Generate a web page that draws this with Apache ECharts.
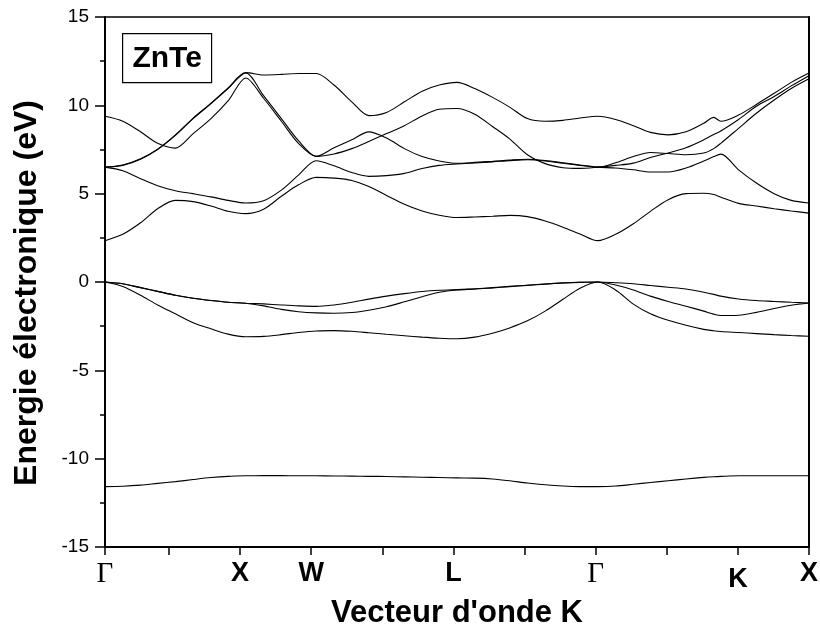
<!DOCTYPE html>
<html>
<head>
<meta charset="utf-8">
<script src="https://cdn.jsdelivr.net/npm/echarts@6/dist/echarts.min.js"></script>
<style>
  html, body { margin: 0; padding: 0; background: #fff; }
  #chart { width: 820px; height: 631px; }
</style>
</head>
<body>
<div id="chart"></div>
<script>
// k-path abscissa (axis units), shared by every band
const kPath = [0.10, 0.35, 0.60, 0.84, 1.09, 1.34, 1.59, 1.83, 2.08, 2.33, 2.58, 2.82, 3.07, 3.32,
  3.57, 3.81, 4.06, 4.31, 4.56, 4.80, 5.05, 5.30, 5.55, 5.79, 6.04, 6.29, 6.54, 6.78, 7.03, 7.28,
  7.53, 7.77, 8.02, 8.27, 8.52, 8.66, 8.76, 9.01, 9.26, 9.51, 9.75, 10.00]

const kTicks = [0.1, 1, 2, 3, 4, 5, 6, 7, 8, 9, 10]
const kLabelPos = [0.1, 2, 3, 5, 7, 9, 10]
const kLabelText = ['Γ', 'X', 'W', 'L', 'Γ', 'K', 'X']

// energies (eV)
const band1 = [-11.58, -11.56, -11.5, -11.4, -11.3, -11.18, -11.07, -11.0, -10.97, -10.96, -10.96, -10.97,
  -10.97, -10.98, -10.99, -11.0, -11.01, -11.03, -11.05, -11.07, -11.09, -11.1, -11.15, -11.25, -11.38,
  -11.48, -11.55, -11.58, -11.58, -11.55, -11.45, -11.35, -11.25, -11.15, -11.06, -11.02, -11.0, -10.97,
  -10.97, -10.97, -10.97, -10.97]
const band2 = [0, -0.25, -0.75, -1.3, -1.8, -2.3, -2.65, -2.95, -3.1, -3.08, -2.98, -2.86, -2.77, -2.75,
  -2.79, -2.87, -2.96, -3.04, -3.12, -3.18, -3.21, -3.12, -2.9, -2.6, -2.2, -1.65, -0.98, -0.35, 0,
  -0.45, -1.25, -1.8, -2.17, -2.45, -2.68, -2.76, -2.8, -2.86, -2.92, -2.98, -3.03, -3.07]
const band3 = [0, -0.1, -0.32, -0.53, -0.75, -0.92, -1.05, -1.15, -1.2, -1.35, -1.55, -1.68, -1.75, -1.77,
  -1.73, -1.6, -1.4, -1.12, -0.83, -0.58, -0.45, -0.4, -0.33, -0.26, -0.19, -0.12, -0.06, -0.02, 0,
  -0.17, -0.45, -0.8, -1.1, -1.37, -1.65, -1.82, -1.9, -1.88, -1.72, -1.5, -1.32, -1.19]
const band4 = [0, -0.1, -0.32, -0.53, -0.75, -0.92, -1.05, -1.15, -1.2, -1.24, -1.3, -1.35, -1.38, -1.3,
  -1.15, -0.97, -0.8, -0.66, -0.54, -0.47, -0.43, -0.39, -0.32, -0.25, -0.18, -0.11, -0.05, -0.01, 0,
  -0.04, -0.1, -0.2, -0.3, -0.4, -0.58, -0.7, -0.8, -0.96, -1.05, -1.1, -1.15, -1.19]
const band5 = [2.34, 2.7, 3.35, 4.15, 4.62, 4.55, 4.3, 4.0, 3.87, 4.12, 4.85, 5.5, 5.92, 5.88,
  5.75, 5.4, 4.9, 4.4, 4.02, 3.78, 3.65, 3.68, 3.72, 3.77, 3.7, 3.45, 3.1, 2.72, 2.34,
  2.7, 3.3, 4.0, 4.66, 5.0, 5.02, 4.95, 4.8, 4.45, 4.3, 4.15, 4.02, 3.9]
const band6 = [6.5, 6.3, 5.85, 5.45, 5.17, 5.0, 4.82, 4.62, 4.47, 4.6, 5.2, 6.05, 6.86, 6.58,
  6.2, 5.98, 6.02, 6.15, 6.42, 6.6, 6.68, 6.74, 6.8, 6.87, 6.92, 6.85, 6.72, 6.6, 6.5,
  6.45, 6.35, 6.23, 6.23, 6.45, 6.85, 7.1, 7.24, 6.35, 5.6, 5.0, 4.62, 4.47]
const band7 = [6.5, 6.6, 6.95, 7.5, 8.3, 9.25, 10.1, 10.95, 11.83, 10.55, 9.25, 8.0, 7.11, 7.6,
  8.05, 8.5, 8.15, 7.55, 7.1, 6.85, 6.72, 6.77, 6.83, 6.9, 6.95, 6.88, 6.75, 6.62, 6.5,
  6.75, 7.1, 7.33, 7.27, 7.2, 7.3, 7.55, 7.85, 8.7, 9.55, 10.3, 10.95, 11.5]
const band8 = [6.5, 6.62, 6.97, 7.52, 8.33, 9.28, 10.12, 10.98, 11.85, 11.72, 11.75, 11.8, 11.8, 11.15,
  10.2, 9.42, 9.6, 10.2, 10.8, 11.15, 11.3, 10.95, 10.45, 9.9, 9.25, 9.1, 9.15, 9.28, 9.38,
  9.2, 8.85, 8.47, 8.33, 8.5, 8.98, 9.32, 9.1, 9.45, 10.05, 10.68, 11.3, 11.83]
const band9 = [9.38, 9.1, 8.5, 7.85, 7.58, 8.4, 9.25, 10.25, 11.55, 10.4, 9.1, 7.85, 7.11, 7.25,
  7.55, 7.95, 8.4, 8.85, 9.4, 9.78, 9.82, 9.5, 8.8, 8.1, 7.2, 6.7, 6.47, 6.43, 6.5,
  6.6, 6.73, 7.05, 7.3, 7.6, 8.05, 8.35, 8.55, 9.2, 9.95, 10.5, 11.1, 11.68]

const bands = [band1, band2, band3, band4, band5, band6, band7, band8, band9]

const chart = echarts.init(document.getElementById('chart'))

function kLabel(value) {
  const i = kLabelPos.findIndex(p => Math.abs(p - value) < 1e-6)
  if (i < 0) return ''
  const t = kLabelText[i]
  if (t === 'Γ') return '{g|Γ}'
  if (t === 'K') return '{k|K}'
  return '{b|' + t + '}'
}

chart.setOption({
  animation: false,
  grid: {
    left: 105,
    right: 11,
    top: 17,
    bottom: 84,
    containLabel: false,
    outerBoundsMode: 'none'
  },
  xAxis: [{
    type: 'value',
    min: 0.1,
    max: 10,
    name: "Vecteur d'onde K",
    nameLocation: 'middle',
    nameGap: 47,
    nameTextStyle: { color: '#000', fontFamily: 'Liberation Sans', fontWeight: 'bold', fontSize: 31 },
    axisLine: { onZero: false, lineStyle: { color: '#000', width: 2 } },
    axisTick: { customValues: kTicks, length: 8, lineStyle: { color: '#000', width: 1.5 } },
    axisLabel: {
      customValues: kLabelPos,
      margin: 13,
      formatter: kLabel,
      rich: {
        g: { fontFamily: 'Liberation Serif', fontSize: 29, color: '#000' },
        b: { fontFamily: 'Liberation Sans', fontWeight: 'bold', fontSize: 27, color: '#000' },
        k: { fontFamily: 'Liberation Sans', fontWeight: 'bold', fontSize: 27, color: '#000', padding: [6, 0, 0, 0] }
      }
    },
    splitLine: { show: false }
  }, {
    type: 'value',
    position: 'top',
    min: 0.1,
    max: 10,
    axisLine: { onZero: false, lineStyle: { color: '#000', width: 1.5 } },
    axisTick: { show: false },
    axisLabel: { show: false },
    splitLine: { show: false }
  }],
  yAxis: [{
    type: 'value',
    min: -15,
    max: 15,
    interval: 5,
    name: 'Energie électronique (eV)',
    nameLocation: 'middle',
    nameGap: 62,
    nameTextStyle: {
      color: '#000', fontFamily: 'Liberation Sans', fontWeight: 'bold', fontSize: 32,
      padding: [0, 22, 0, 0]
    },
    axisLine: { onZero: false, lineStyle: { color: '#000', width: 2 } },
    axisTick: { length: 10, lineStyle: { color: '#000', width: 1.5 } },
    minorTick: { show: true, splitNumber: 2, length: 5, lineStyle: { color: '#000', width: 1.5 } },
    axisLabel: { color: '#000', fontFamily: 'Liberation Sans', fontSize: 19, margin: 16 },
    splitLine: { show: false }
  }, {
    type: 'value',
    position: 'right',
    min: -15,
    max: 15,
    axisLine: { onZero: false, lineStyle: { color: '#000', width: 2 } },
    axisTick: { show: false },
    axisLabel: { show: false },
    splitLine: { show: false }
  }],
  graphic: [{
    type: 'group',
    left: 122,
    top: 33,
    children: [{
      type: 'rect',
      shape: { x: 0, y: 0, width: 89, height: 49 },
      style: { fill: '#fff', stroke: '#000', lineWidth: 1.2 }
    }, {
      type: 'text',
      x: 44.5,
      y: 25,
      style: {
        text: 'ZnTe',
        fill: '#000',
        font: 'bold 30px "Liberation Sans"',
        textAlign: 'center',
        textVerticalAlign: 'middle'
      }
    }]
  }],
  series: bands.map((b, i) => ({
    name: 'band' + (i + 1),
    type: 'line',
    xAxisIndex: 0,
    yAxisIndex: 0,
    data: kPath.map((k, j) => [k, b[j]]),
    symbol: 'none',
    smooth: 0.3,
    silent: true,
    lineStyle: { color: '#000', width: 1.1 }
  }))
})
</script>
</body>
</html>
